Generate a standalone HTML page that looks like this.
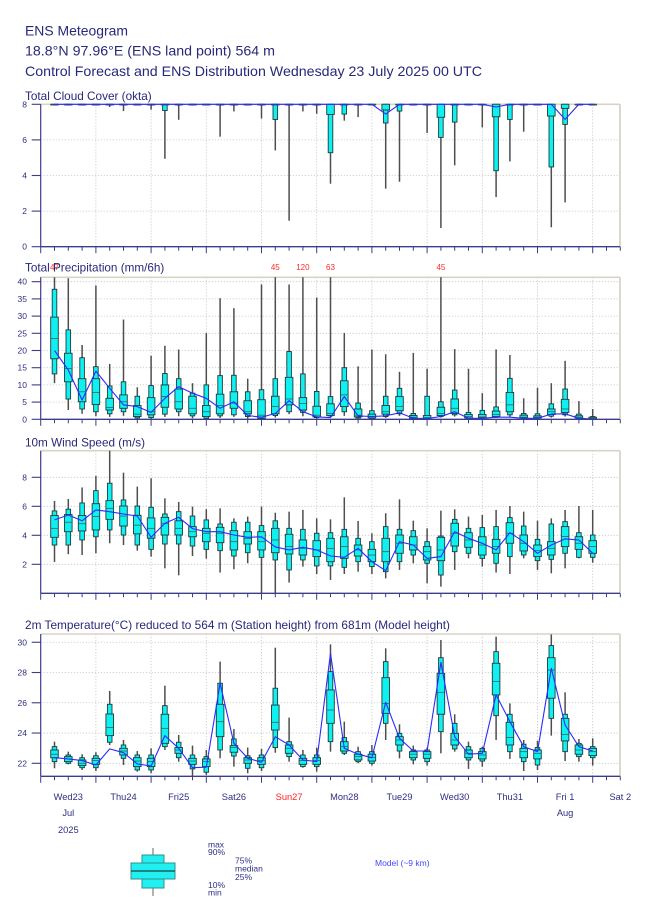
<!DOCTYPE html>
<html><head><meta charset="utf-8"><title>ENS Meteogram</title>
<style>
html,body{margin:0;padding:0;background:#fff;}
svg{display:block;}
text{font-family:"Liberation Sans",Arial,sans-serif;fill:#28287a;}
.t{font-size:14px}
.pt{font-size:12px}
.yl{font-size:8.5px;text-anchor:end;fill:#2e2e80}
.dl{font-size:9.3px;text-anchor:middle;fill:#2e2e80}
.lg{font-size:8.5px;fill:#2e2e80}
.red{fill:#ff2a2a;font-size:8px;text-anchor:middle}
</style></head><body>
<svg id="c" width="650" height="916" viewBox="0 0 650 916" xmlns="http://www.w3.org/2000/svg">
<rect width="650" height="916" fill="#fff"/>
<g id="grid"></g>
<g id="frame"></g>
<g id="data"></g>
<g id="model"></g>
<g id="axes"></g>

<text class="t" x="25" y="35.7" textLength="103" lengthAdjust="spacingAndGlyphs">ENS Meteogram</text>
<text class="t" x="25" y="55.7" textLength="250" lengthAdjust="spacingAndGlyphs">18.8°N 97.96°E (ENS land point) 564 m</text>
<text class="t" x="25" y="76" textLength="457" lengthAdjust="spacingAndGlyphs">Control Forecast and ENS Distribution Wednesday 23 July 2025 00 UTC</text>

<text class="pt" x="25" y="100" textLength="126.7" lengthAdjust="spacingAndGlyphs">Total Cloud Cover (okta)</text>
<text class="red" x="54.5" y="270">47</text>
<text class="red" x="275.3" y="270">45</text>
<text class="red" x="302.9" y="270">120</text>
<text class="red" x="330.5" y="270">63</text>
<text class="red" x="440.9" y="270">45</text>
<text class="pt" x="25" y="271.7" textLength="139.3" lengthAdjust="spacingAndGlyphs">Total Precipitation (mm/6h)</text>
<text class="pt" x="25" y="446.7" textLength="120" lengthAdjust="spacingAndGlyphs">10m Wind Speed (m/s)</text>
<text class="pt" x="25" y="629" textLength="425" lengthAdjust="spacingAndGlyphs">2m Temperature(°C) reduced to 564 m (Station height) from 681m (Model height)</text>

<!-- cloud y labels -->
<text class="yl" x="27" y="249.7">0</text>
<text class="yl" x="27" y="214.1">2</text>
<text class="yl" x="27" y="178.5">4</text>
<text class="yl" x="27" y="142.9">6</text>
<text class="yl" x="27" y="107.3">8</text>
<!-- precip y labels -->
<text class="yl" x="27" y="422.3">0</text>
<text class="yl" x="27" y="405.1">5</text>
<text class="yl" x="27" y="387.9">10</text>
<text class="yl" x="27" y="370.7">15</text>
<text class="yl" x="27" y="353.5">20</text>
<text class="yl" x="27" y="336.3">25</text>
<text class="yl" x="27" y="319.1">30</text>
<text class="yl" x="27" y="301.9">35</text>
<text class="yl" x="27" y="284.7">40</text>
<!-- wind y labels -->
<text class="yl" x="27" y="567.3">2</text>
<text class="yl" x="27" y="538.3">4</text>
<text class="yl" x="27" y="509.3">6</text>
<text class="yl" x="27" y="480.3">8</text>
<!-- temp y labels -->
<text class="yl" x="27" y="766.3">22</text>
<text class="yl" x="27" y="736">24</text>
<text class="yl" x="27" y="705.8">26</text>
<text class="yl" x="27" y="675.5">28</text>
<text class="yl" x="27" y="645.3">30</text>

<!-- day labels -->
<text class="dl" x="68.3" y="800">Wed23</text>
<text class="dl" x="123.5" y="800">Thu24</text>
<text class="dl" x="178.7" y="800">Fri25</text>
<text class="dl" x="233.9" y="800">Sat26</text>
<text class="dl" x="289.1" y="800" style="fill:#ff2020">Sun27</text>
<text class="dl" x="344.3" y="800">Mon28</text>
<text class="dl" x="399.5" y="800">Tue29</text>
<text class="dl" x="454.7" y="800">Wed30</text>
<text class="dl" x="509.9" y="800">Thu31</text>
<text class="dl" x="565.1" y="800">Fri 1</text>
<text class="dl" x="620.3" y="800">Sat 2</text>
<text class="dl" x="68.3" y="816">Jul</text>
<text class="dl" x="565.1" y="816">Aug</text>
<text class="dl" x="68.3" y="833">2025</text>

<!-- legend -->
<line x1="153" y1="848" x2="153" y2="896" stroke="#999" stroke-width="1.5"/>
<rect x="142" y="855" width="22" height="8" fill="#22f0f0" stroke="#2f8f8f" stroke-width="1"/>
<rect x="142" y="879" width="22" height="9" fill="#22f0f0" stroke="#2f8f8f" stroke-width="1"/>
<rect x="131" y="863" width="44" height="16" fill="#22f0f0" stroke="#2f8f8f" stroke-width="1"/>
<line x1="131" y1="871" x2="175" y2="871" stroke="#1c4545" stroke-width="1.3"/>
<text class="lg" x="208" y="847.5">max</text>
<text class="lg" x="208" y="855">90%</text>
<text class="lg" x="235" y="863.3">75%</text>
<text class="lg" x="235" y="871.5">median</text>
<text class="lg" x="235" y="880">25%</text>
<text class="lg" x="208" y="888">10%</text>
<text class="lg" x="208" y="895.5">min</text>
<text class="lg" x="375" y="866" style="fill:#4646ff">Model (~9 km)</text>
</svg>
<script>
(function(){
const NS="http://www.w3.org/2000/svg";
function add(g,tag,a){const e=document.createElementNS(NS,tag);for(const k in a)e.setAttribute(k,a[k]);document.getElementById(g).appendChild(e);return e;}
const X0=40.7,DX=13.8,XR=620;
const X=k=>X0+DX*k;
function ln(g,x1,y1,x2,y2,st,w,da){const a={x1:x1,y1:y1,x2:x2,y2:y2,stroke:st,'stroke-width':w};if(da)a['stroke-dasharray']=da;add(g,'line',a);}
function bx(x,y1,y2,w){const t=Math.min(y1,y2),h=Math.max(Math.abs(y2-y1),0.6);add('data','rect',{x:x-w/2,y:t,width:w,height:h,fill:'#0ff0f0',stroke:'#1e3a3a','stroke-width':0.9});}
function panel(P){
  const top=P.top,bot=P.bot,y=P.y;
  P.grid.forEach(v=>ln('grid',X0,y(v),XR,y(v),'#c4c4c4',0.8,'1.2 1.8'));
  for(let d=1;d<=10;d++){const x=X0+DX*4*d;ln('grid',x,top,x,bot,'#c4c4c4',0.8,'1.2 1.8');}
  ln('frame',X0,top,XR,top,'#d9d3c7',1.6);
  ln('frame',XR,top,XR,bot,'#d9d3c7',1.8);
  const cy=v=>Math.max(top,Math.min(bot,y(v)));
  P.data.forEach((q,i)=>{
    const x=X(i+1);
    ln('data',x,cy(q[0]),x,cy(q[6]),'#4e4e4e',1.5);
    bx(x,cy(q[1]),cy(q[5]),4.6);
    bx(x,cy(q[2]),cy(q[4]),7.6);
    ln('data',x-3.8,cy(q[3]),x+3.8,cy(q[3]),'#2d6464',0.8);
  });
  add('model','polyline',{points:P.model.map((v,i)=>X(i+1).toFixed(1)+','+cy(v).toFixed(1)).join(' '),fill:'none',stroke:'#2a2aff','stroke-width':1.1,'stroke-linejoin':'round'});
  ln('axes',X0,top,X0,bot,'#3c3c8c',1.2);
  ln('axes',X0,bot,XR,bot,'#3c3c8c',1.3);
  P.ticks.forEach(v=>ln('axes',X0-9,y(v),X0,y(v),'#3c3c8c',1.1));
  for(let k=0;k<=42;k++){const x=X(k);ln('axes',x,bot,x,bot+(k%4==0?6.5:4),'#3c3c8c',1);}
}
/* cloud */
const cl=[];for(let k=1;k<=40;k++)cl.push([8,8,8,8,8,8,8]);
const co={5:[7.85],6:[7.62],8:[7.7],9:[4.94,7.65],10:[7.13],13:[6.18],14:[7.6],16:[7.2],17:[5.41,7.15],18:[1.46],19:[7.6],20:[7.47],21:[3.54,5.28,7.43],22:[7.08,7.45],23:[7.28],25:[3.26,6.95,7.68],26:[3.65,7.62],28:[6.39],29:[1.05,6.14,7.27],30:[4.57,7.0],32:[6.7],33:[2.79,4.27,7.3],34:[4.79,7.15],35:[6.46],37:[1.09,4.48,7.34],38:[2.49,6.87,7.77]};
for(const k in co){co[k].forEach((v,j)=>{cl[k-1][j]=v;});}
const cm=cl.map(()=>8);cm[24]=7.45;cm[37]=7.15;cm[32]=7.85;
panel({top:104.3,bot:246.7,y:v=>246.7-v*17.8,grid:[2,4,6],ticks:[0,2,4,6,8],data:cl,model:cm});
/* precip */
const pr=[
[10.5,13.2,17.6,23.5,29.7,37.8,47,20],
[2.7,5.9,10.9,14.8,19.2,26,41,14.3],
[1.6,3,5.1,8,11.8,17.9,21.6,5.6],
[0.9,2.2,4.3,7.8,11.8,15.3,38.9,14],
[0.7,1.6,2.7,3.4,6.1,9.7,16.1,9],
[1,2.2,3.2,5.1,7.1,10.9,29,4.2],
[0.1,0.4,0.8,1.5,4,6.7,9.3,3.7],
[0.1,0.5,1.3,2.2,6.3,9.8,18.5,2],
[0.7,1.5,3.5,6.6,10,13.3,21.4,6.1],
[0.9,2.2,3,5.1,8.8,11.8,20.3,9.5],
[0.3,1,1.6,3.2,6.7,7.6,10.5,7.6],
[0.1,0.3,0.8,2.2,4,10,25.1,6.1],
[0.4,1,1.6,4,7.3,12.7,35.2,3.2],
[0.7,1.3,3.2,4.7,8,12.8,32.3,5.1],
[0.2,0.8,1.6,2.2,5.4,8,11.8,1.1],
[0.1,0.2,0.3,1.2,5.7,8.6,39.2,0.6],
[0.5,1.1,1.6,3.7,6.7,11.8,45,1.7],
[1.5,2.2,4.2,5.9,12.2,19.7,39.2,5.4],
[0.9,2,2.7,4.6,6.3,13.2,120,2.2],
[0.2,0.5,0.7,1.2,3.8,8.1,35.4,0.7],
[0.5,1,1.1,1.7,4.5,6.6,63,0.5],
[1,2.2,3.7,7.1,11.2,15,25.1,6.6],
[0.2,0.4,0.7,1.2,3,4.7,15.4,1],
[0.1,0.2,0.4,0.8,1.5,2.5,20.3,0.8],
[0.4,0.8,1.5,2.2,4,6.7,18.9,1],
[1,1.6,2.5,3.7,6.6,9,13.8,1.9],
[0.1,0.2,0.3,0.6,1.1,1.7,19.3,0.3],
[0.1,0.2,0.3,0.5,1.1,6.7,14.7,0.2],
[0.5,0.8,1.1,1.7,3.5,5.1,45,0.8],
[0.8,1.3,1.7,3.2,5.9,8.5,20.4,2.2],
[0.2,0.3,0.4,0.8,1.4,2,14.7,0.3],
[0.2,0.3,0.5,0.7,1.4,2.6,7.6,0.3],
[0.4,0.6,0.8,1.4,2.4,3.6,20.3,0.6],
[0.7,1.3,2.2,4.2,7.8,11.9,18.7,0.6],
[0.2,0.3,0.4,0.6,1.2,1.7,6.1,0.3],
[0.2,0.3,0.4,0.6,1,1.6,9.2,0.3],
[0.5,0.9,1.4,2.2,3,4.5,10.5,1.5],
[0.8,1.3,2,3,5.8,8.8,17,1.6],
[0.2,0.3,0.4,0.5,1,1.5,5.3,0.3],
[0.05,0.1,0.2,0.3,0.6,0.8,3,0.1]];
panel({top:277.3,bot:419.3,y:v=>419.3-v*3.44,grid:[5,10,15,20,25,30,35,40],ticks:[0,5,10,15,20,25,30,35,40],data:pr,model:pr.map(q=>q[7])});
/* wind */
const wd=[
[2.16,3.33,3.86,4.48,5.36,5.68,6.37,5.06],
[2.7,3.33,4.25,4.9,5.43,5.8,6.5,5.4],
[2.64,3.68,4.3,4.8,5.36,6.23,7.3,5.0],
[2.76,3.9,4.37,5.3,6.18,7.08,8.1,5.75],
[3.45,4.37,5.1,5.86,6.39,7.59,9.84,5.63],
[3.33,4.02,4.64,5.33,6.02,6.44,8.32,5.47],
[2.94,3.33,4.1,4.7,5.38,6.02,7.36,5.33],
[2.53,3.03,3.8,4.48,5.2,5.93,7.93,3.86],
[1.72,3.4,4.02,4.8,5.24,5.47,6.55,4.83],
[1.24,3.4,4.02,4.48,5.0,5.63,6.3,5.24],
[2.57,3.26,3.9,4.25,4.6,5.33,5.98,4.46],
[2.39,3.03,3.56,4.14,4.48,5.06,5.8,4.25],
[1.43,2.94,3.49,4.14,4.55,4.78,5.86,4.25],
[1.66,2.57,2.99,3.56,4.32,4.9,5.17,4.02],
[2.07,2.8,3.4,3.79,4.25,4.9,5.29,3.86],
[0,2.48,2.99,3.56,4.25,4.67,5.98,3.9],
[0,2.3,2.8,3.68,4.48,5.0,5.56,3.2],
[0.74,1.61,2.71,3.22,4.07,4.48,5.63,2.99],
[1.84,2.3,2.64,3.1,3.68,4.41,5.75,3.17],
[1.33,1.89,2.53,2.99,3.63,4.14,5.17,2.99],
[0.92,1.89,2.18,3.1,3.79,4.18,5.1,2.57],
[1.33,1.79,2.41,3.22,3.9,4.41,6.62,2.48],
[1.49,2.18,2.57,2.99,3.33,3.79,4.99,3.1],
[1.33,1.84,2.18,2.64,3.03,3.56,4.14,2.18],
[1.03,1.49,2.18,2.87,3.79,4.6,5.52,1.56],
[1.61,2.18,2.76,3.45,4.02,4.41,6.48,3.56],
[2.07,2.64,2.99,3.33,3.9,4.32,5.01,3.33],
[0.69,2.07,2.3,2.87,3.22,3.56,4.48,2.41],
[0.46,1.26,2.25,2.99,3.86,3.95,5.7,2.53],
[1.61,2.87,3.26,4.14,4.83,5.1,5.79,4.25],
[2.41,2.76,3.17,3.68,4.18,4.48,5.29,3.79],
[1.84,2.41,2.64,3.33,3.9,4.53,5.4,3.45],
[1.43,2.07,2.76,3.22,3.72,4.6,5.75,2.99],
[1.33,2.53,3.45,4.14,4.87,5.22,6.02,4.18],
[2.41,2.64,2.92,3.45,4.02,4.64,5.63,3.56],
[1.61,2.25,2.53,2.94,3.33,3.72,5.01,2.76],
[1.38,2.34,2.64,3.1,3.56,4.78,5.17,3.33],
[1.72,2.76,3.22,3.91,4.6,4.94,5.75,3.75],
[2.41,2.48,3.03,3.45,3.9,4.18,6.02,3.68],
[2.11,2.48,2.76,3.22,3.63,4.02,5.75,2.76]];
panel({top:450.7,bot:593.3,y:v=>593.3-v*14.5,grid:[2,4,6,8],ticks:[2,4,6,8],data:wd,model:wd.map(q=>q[7])});
/* temp */
const tp=[
[21.67,22.11,22.37,22.6,22.88,23.1,23.43,22.37],
[21.93,22.0,22.11,22.29,22.44,22.55,22.77,22.29],
[21.56,21.71,21.85,22.0,22.22,22.37,22.6,22.18],
[21.49,21.71,21.93,22.18,22.33,22.5,22.73,21.89],
[23.21,23.39,23.83,24.36,25.26,25.9,26.78,22.95],
[21.89,22.33,22.55,22.81,22.99,23.21,23.54,22.7],
[21.45,21.56,21.78,22.15,22.37,22.55,22.81,21.96],
[21.34,21.56,21.78,22.11,22.33,22.55,22.99,21.82],
[22.88,23.1,23.32,24.31,25.24,25.81,27.13,23.83],
[22.11,22.37,22.66,22.88,23.04,23.39,23.87,22.99],
[21.12,21.63,21.93,22.15,22.33,22.55,23.17,21.71],
[21.23,21.41,21.78,22.11,22.29,22.44,22.88,21.74],
[22.33,22.88,23.76,24.75,25.9,27.29,28.72,27.29],
[21.78,22.48,22.73,23.04,23.17,23.61,24.27,23.32],
[21.34,21.67,22.0,22.22,22.37,22.5,23.04,22.33],
[21.49,21.71,21.93,22.18,22.37,22.55,22.95,22.07],
[22.7,23.04,24.2,24.71,25.85,26.96,29.64,23.76],
[22.11,22.44,22.66,22.99,23.21,23.43,25.02,23.21],
[21.71,21.78,21.93,22.18,22.33,22.55,22.88,22.22],
[21.45,21.78,21.93,22.18,22.37,22.55,23.04,22.11],
[22.77,23.43,24.64,25.52,26.85,28.06,29.86,29.27],
[22.55,22.66,22.81,23.1,23.43,23.7,24.75,22.99],
[22.0,22.11,22.22,22.44,22.6,22.77,23.1,22.6],
[21.85,22.0,22.15,22.37,22.6,22.77,23.21,22.37],
[23.54,24.64,25.3,25.96,27.66,28.72,29.6,26.03],
[22.33,22.81,23.21,23.54,23.76,23.98,24.58,23.65],
[21.93,22.22,22.37,22.6,22.77,22.88,23.17,22.81],
[21.85,22.11,22.33,22.6,22.77,22.88,23.04,22.81],
[22.66,24.09,25.24,26.69,27.95,28.98,30.15,28.67],
[22.77,22.95,23.21,23.54,23.98,24.64,25.24,23.76],
[21.63,22.22,22.37,22.66,22.88,23.1,23.43,22.6],
[21.78,22.15,22.29,22.55,22.77,22.99,23.1,22.66],
[23.54,25.15,26.52,27.4,28.61,29.38,30.37,26.52],
[22.29,22.77,23.21,23.7,24.71,25.24,25.96,24.75],
[21.49,22.11,22.37,22.77,22.99,23.26,23.54,23.1],
[21.56,21.89,22.29,22.66,22.88,23.04,23.48,22.77],
[23.83,24.97,26.3,28.17,28.98,29.78,30.52,28.28],
[22.15,22.77,23.48,23.91,24.97,25.24,26.69,24.53],
[22.11,22.44,22.6,22.88,23.21,23.32,23.61,23.1],
[21.85,22.37,22.51,22.77,22.99,23.1,23.65,22.81]];
panel({top:634,bot:776.3,y:v=>763.3-(v-22)*15.13,grid:[22,24,26,28,30],ticks:[22,24,26,28,30],data:tp,model:tp.map(q=>q[7])});
})();
</script>
</body></html>
